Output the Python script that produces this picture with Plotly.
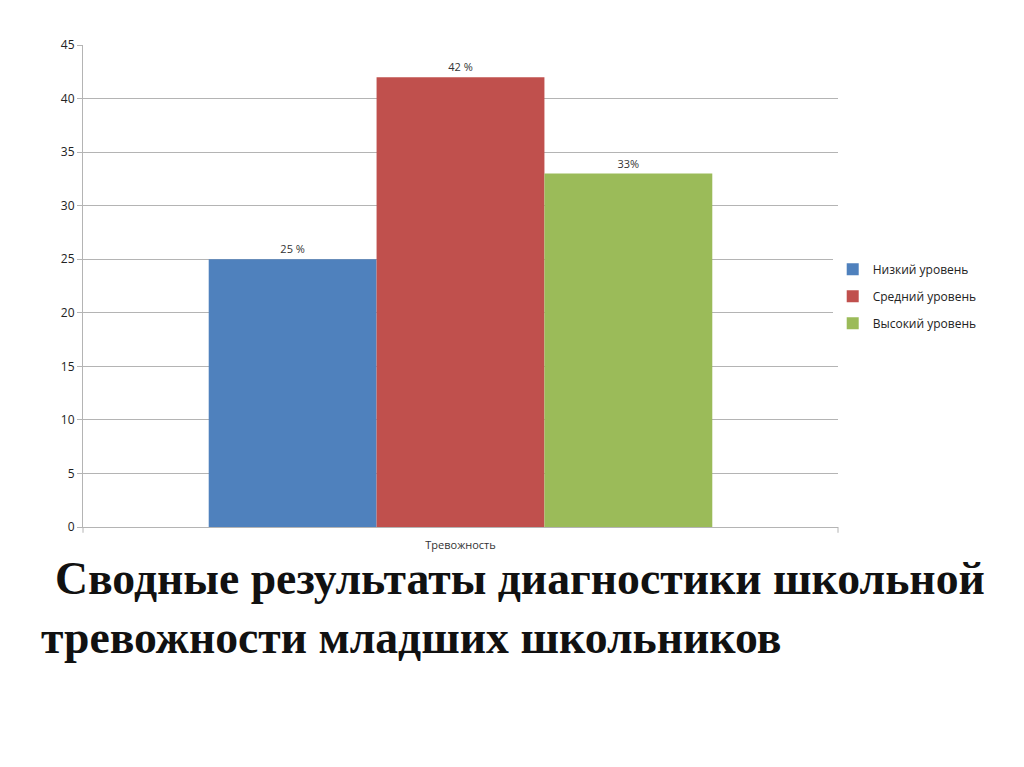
import plotly.graph_objects as go

# chart data
category = ["Тревожность"]
series_names = ["Низкий уровень", "Средний уровень", "Высокий уровень"]
series_values = [25, 42, 33]
value_labels = ["25 %", "42 %", "33%"]
colors = ["#4F81BD", "#C0504D", "#9BBB59"]
title_lines = ["Сводные результаты диагностики школьной",
               "тревожности младших школьников"]

fig = go.Figure()
for i, name in enumerate(series_names):
    fig.add_trace(go.Bar(
        x=category, y=[series_values[i]], name=name,
        marker=dict(color=colors[i], line=dict(width=0)),
        text=[value_labels[i]], textposition="outside",
        textfont=dict(family="Open Sans", size=11, color="#333333"),
        cliponaxis=False, legendgroup=name,
    ))

grid = "#b4b4b4"
fig.update_layout(
    width=1024, height=767,
    margin=dict(l=75, r=194, t=37, b=248),
    paper_bgcolor="white", plot_bgcolor="white",
    barmode="group", bargap=0.333, bargroupgap=0,
    font=dict(family="Open Sans", color="#333333"),
    showlegend=True,
    legend=dict(x=0.993, y=0.565, xanchor="left", yanchor="top",
                font=dict(size=12, color="#222222"),
                traceorder="grouped", tracegroupgap=8, itemwidth=30),
    xaxis=dict(showline=True, linecolor=grid, linewidth=1,
               tickfont=dict(size=11, color="#333333"), ticks="",
               ticklabelstandoff=8),
    yaxis=dict(range=[0, 45], dtick=5, showgrid=True, gridcolor=grid,
               showline=True, linecolor=grid, ticks="outside", ticklen=5,
               tickcolor=grid, tickfont=dict(size=12, color="#222222"),
               zeroline=False),
)

# end ticks on the category axis
for xd in (0, 1):
    fig.add_shape(type="line", xref="x domain", yref="paper",
                  x0=xd, x1=xd, y0=0, y1=-0.012,
                  line=dict(color=grid, width=1))

title_font = dict(family="Liberation Serif", size=45.7, color="#111111")
fig.add_annotation(text="<b>%s</b>" % title_lines[0], xref="paper", yref="paper",
                   x=(45 - 75) / 755, y=-(598 - 519) / 482, xanchor="left", yanchor="bottom",
                   showarrow=False, font=title_font)
fig.add_annotation(text="<b>%s</b>" % title_lines[1], xref="paper", yref="paper",
                   x=(31 - 75) / 755, y=-(657 - 519) / 482, xanchor="left", yanchor="bottom",
                   showarrow=False, font=title_font)

fig.write_html("out.html")
